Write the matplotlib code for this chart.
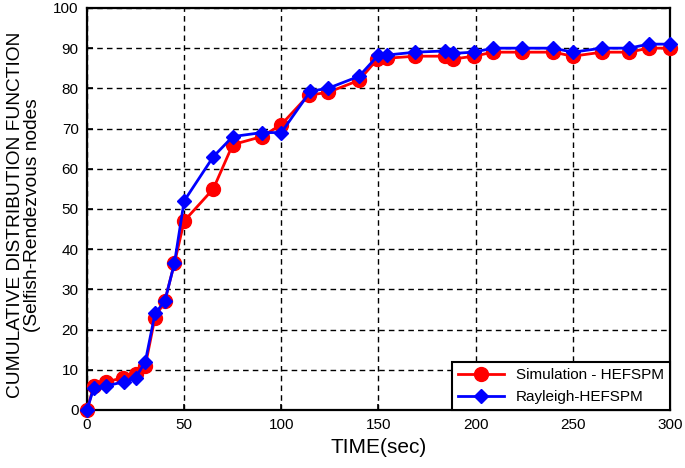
import numpy as np
import matplotlib
matplotlib.use("Agg")
import matplotlib.pyplot as plt

plt.rcParams["font.family"] = ["Liberation Sans", "DejaVu Sans"]

# Simulation - HEFSPM (red circles)
sim_time = [0, 3.5, 10, 18.5, 25, 30, 35, 40, 45, 50, 65, 75, 90, 100,
            114, 124, 140, 149.5, 154.5, 169, 184, 188.5, 199, 209, 224,
            240, 250, 265, 279, 289, 300]
sim_cdf = [0, 6, 7, 8, 9, 11, 23, 27, 36.5, 47, 55, 66, 68, 71,
           78.3, 79, 82, 87.3, 87.5, 88, 88, 87.3, 88, 89, 89,
           89, 88, 89, 89, 90, 90]

# Rayleigh-HEFSPM (blue diamonds)
ray_time = [0, 3.5, 10, 19, 25, 30, 35, 40, 45, 50, 65, 75, 90, 100,
            115, 124, 140, 150, 154.5, 169, 184, 188.5, 199, 209, 224,
            240, 250, 265, 279, 289, 300]
ray_cdf = [0, 5.5, 6, 7, 8, 12, 24, 27, 36.5, 52, 63, 68, 69, 69,
           79.3, 80, 83, 88.3, 88.3, 89, 89.3, 88.7, 89, 90, 90,
           90, 89, 90, 90, 91, 91]

fig, ax = plt.subplots(figsize=(6.85, 4.68), dpi=100)
fig.subplots_adjust(left=0.127, right=0.978, top=0.983, bottom=0.124)

ax.plot(sim_time, sim_cdf, color="#ff0000", linewidth=2, marker="o",
        markersize=10, label="Simulation - HEFSPM", clip_on=False, zorder=3)
ax.plot(ray_time, ray_cdf, color="#0000ff", linewidth=2, marker="D",
        markersize=7.5, label="Rayleigh-HEFSPM", clip_on=False, zorder=4)

ax.set_xlim(0, 300)
ax.set_ylim(0, 100)
ax.set_xticks(np.arange(0, 301, 50))
ax.set_yticks(np.arange(0, 101, 10))
ax.grid(True, color="black", linestyle=(0, (4, 3)), linewidth=1)
ax.tick_params(direction="in", labelsize=11, length=4, width=1.2, pad=6)
for s in ax.spines.values():
    s.set_linewidth(1.6)
    s.set_color("black")

ax.set_xlabel("TIME(sec)", fontsize=15, labelpad=4)
ax.set_ylabel("CUMULATIVE DISTRIBUTION FUNCTION\n(Selfish-Rendezvous nodes",
              fontsize=13.8, linespacing=1.0)
ax.yaxis.set_label_coords(-0.079, 0.485)

leg = ax.legend(loc="lower right", fontsize=11, fancybox=False,
                framealpha=1, edgecolor="black", handlelength=3,
                borderaxespad=0.0)
leg.set_zorder(5)
leg.get_frame().set_linewidth(1.5)

fig.savefig("out.png", dpi=100)
